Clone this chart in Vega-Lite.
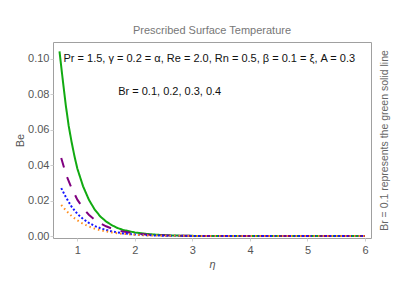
{
  "$schema": "https://vega.github.io/schema/vega-lite/v6.json",
  "width": 318,
  "height": 196,
  "autosize": "none",
  "padding": {"left": 53, "top": 42, "right": 34, "bottom": 57},
  "background": "white",
  "config": {
    "font": "Liberation Sans",
    "view": {"stroke": "#a0a0a0", "strokeWidth": 1},
    "axis": {"labelColor": "#555", "titleColor": "#555", "labelFontSize": 11, "titleFontSize": 11, "titleFontWeight": "normal", "domain": false, "grid": false, "tickColor": "#cfcfcf", "tickSize": 3, "labelFont": "Liberation Sans", "titleFont": "Liberation Sans"}
  },
  "title": {"text": "Prescribed Surface Temperature", "fontSize": 11, "fontWeight": "normal", "color": "#777", "font": "Liberation Sans", "offset": 6},
  "datasets": {
    "curves": [
      {"eta": 0.69, "Be": 0.104, "Br": "0.1"}, {"eta": 0.75, "Be": 0.087, "Br": "0.1"}, {"eta": 0.8, "Be": 0.0735, "Br": "0.1"}, {"eta": 0.85, "Be": 0.062, "Br": "0.1"}, {"eta": 0.9, "Be": 0.053, "Br": "0.1"}, {"eta": 0.95, "Be": 0.045, "Br": "0.1"}, {"eta": 1.0, "Be": 0.038, "Br": "0.1"}, {"eta": 1.1, "Be": 0.028, "Br": "0.1"}, {"eta": 1.2, "Be": 0.0205, "Br": "0.1"}, {"eta": 1.3, "Be": 0.015, "Br": "0.1"}, {"eta": 1.4, "Be": 0.011, "Br": "0.1"}, {"eta": 1.5, "Be": 0.0082, "Br": "0.1"}, {"eta": 1.6, "Be": 0.0061, "Br": "0.1"}, {"eta": 1.7, "Be": 0.0045, "Br": "0.1"}, {"eta": 1.8, "Be": 0.0034, "Br": "0.1"}, {"eta": 2.0, "Be": 0.002, "Br": "0.1"}, {"eta": 2.2, "Be": 0.0012, "Br": "0.1"}, {"eta": 2.4, "Be": 0.0007, "Br": "0.1"}, {"eta": 2.6, "Be": 0.0004, "Br": "0.1"}, {"eta": 2.8, "Be": 0.0002, "Br": "0.1"}, {"eta": 3.0, "Be": 0.0001, "Br": "0.1"}, {"eta": 3.5, "Be": 0.00002, "Br": "0.1"}, {"eta": 4.0, "Be": 0, "Br": "0.1"}, {"eta": 5.0, "Be": 0, "Br": "0.1"}, {"eta": 6.0, "Be": 0, "Br": "0.1"},
      {"eta": 0.72, "Be": 0.044, "Br": "0.2"}, {"eta": 0.8, "Be": 0.035, "Br": "0.2"}, {"eta": 0.9, "Be": 0.027, "Br": "0.2"}, {"eta": 1.0, "Be": 0.0205, "Br": "0.2"}, {"eta": 1.1, "Be": 0.0157, "Br": "0.2"}, {"eta": 1.2, "Be": 0.012, "Br": "0.2"}, {"eta": 1.3, "Be": 0.0092, "Br": "0.2"}, {"eta": 1.4, "Be": 0.0071, "Br": "0.2"}, {"eta": 1.5, "Be": 0.0055, "Br": "0.2"}, {"eta": 1.6, "Be": 0.0042, "Br": "0.2"}, {"eta": 1.7, "Be": 0.0032, "Br": "0.2"}, {"eta": 1.8, "Be": 0.0025, "Br": "0.2"}, {"eta": 2.0, "Be": 0.0015, "Br": "0.2"}, {"eta": 2.2, "Be": 0.0009, "Br": "0.2"}, {"eta": 2.5, "Be": 0.0004, "Br": "0.2"}, {"eta": 3.0, "Be": 0.0001, "Br": "0.2"}, {"eta": 3.5, "Be": 0, "Br": "0.2"}, {"eta": 4.5, "Be": 0, "Br": "0.2"}, {"eta": 6.0, "Be": 0, "Br": "0.2"},
      {"eta": 0.72, "Be": 0.027, "Br": "0.3"}, {"eta": 0.8, "Be": 0.022, "Br": "0.3"}, {"eta": 0.9, "Be": 0.0165, "Br": "0.3"}, {"eta": 1.0, "Be": 0.0125, "Br": "0.3"}, {"eta": 1.1, "Be": 0.0096, "Br": "0.3"}, {"eta": 1.2, "Be": 0.0074, "Br": "0.3"}, {"eta": 1.3, "Be": 0.0057, "Br": "0.3"}, {"eta": 1.4, "Be": 0.0044, "Br": "0.3"}, {"eta": 1.5, "Be": 0.0034, "Br": "0.3"}, {"eta": 1.6, "Be": 0.0026, "Br": "0.3"}, {"eta": 1.8, "Be": 0.0015, "Br": "0.3"}, {"eta": 2.0, "Be": 0.0009, "Br": "0.3"}, {"eta": 2.2, "Be": 0.0005, "Br": "0.3"}, {"eta": 2.5, "Be": 0.0002, "Br": "0.3"}, {"eta": 3.0, "Be": 0.00005, "Br": "0.3"}, {"eta": 3.5, "Be": 0, "Br": "0.3"}, {"eta": 4.5, "Be": 0, "Br": "0.3"}, {"eta": 6.0, "Be": 0, "Br": "0.3"},
      {"eta": 0.72, "Be": 0.0175, "Br": "0.4"}, {"eta": 0.8, "Be": 0.0145, "Br": "0.4"}, {"eta": 0.9, "Be": 0.0113, "Br": "0.4"}, {"eta": 1.0, "Be": 0.0088, "Br": "0.4"}, {"eta": 1.1, "Be": 0.0069, "Br": "0.4"}, {"eta": 1.2, "Be": 0.0054, "Br": "0.4"}, {"eta": 1.3, "Be": 0.0042, "Br": "0.4"}, {"eta": 1.4, "Be": 0.0033, "Br": "0.4"}, {"eta": 1.5, "Be": 0.0026, "Br": "0.4"}, {"eta": 1.6, "Be": 0.002, "Br": "0.4"}, {"eta": 1.8, "Be": 0.0012, "Br": "0.4"}, {"eta": 2.0, "Be": 0.0007, "Br": "0.4"}, {"eta": 2.2, "Be": 0.0004, "Br": "0.4"}, {"eta": 2.5, "Be": 0.0002, "Br": "0.4"}, {"eta": 3.0, "Be": 0.00005, "Br": "0.4"}, {"eta": 3.5, "Be": 0, "Br": "0.4"}, {"eta": 4.5, "Be": 0, "Br": "0.4"}, {"eta": 6.0, "Be": 0, "Br": "0.4"}
    ],
    "notes": [
      {"label": "Pr = 1.5, γ = 0.2 = α, Re = 2.0, Rn = 0.5, β = 0.1 = ξ, A = 0.3", "eta": 0.76, "Be": 0.0997},
      {"label": "Br = 0.1, 0.2, 0.3, 0.4", "eta": 1.71, "Be": 0.081}
    ]
  },
  "layer": [
    {
      "data": {"name": "curves"},
      "mark": {"type": "line", "clip": true, "strokeCap": "butt"},
      "encoding": {
        "x": {"field": "eta", "type": "quantitative", "scale": {"domain": [0.577, 6.104], "nice": false, "zero": false},
              "axis": {"title": "η", "titleFontStyle": "italic", "values": [1, 2, 3, 4, 5, 6], "format": "d", "labelPadding": 3, "titlePadding": 3}},
        "y": {"field": "Be", "type": "quantitative", "scale": {"domain": [-0.0011, 0.1093], "nice": false, "zero": false},
              "axis": {"title": "Be", "values": [0, 0.02, 0.04, 0.06, 0.08, 0.1], "format": ".2f", "labelPadding": 1, "titlePadding": 2}},
        "color": {"field": "Br", "type": "nominal", "legend": null,
                  "scale": {"domain": ["0.1", "0.2", "0.3", "0.4"], "range": ["#11aa11", "#800080", "#1414ff", "#ff8c1a"]}},
        "strokeDash": {"field": "Br", "type": "nominal", "legend": null,
                       "scale": {"domain": ["0.1", "0.2", "0.3", "0.4"], "range": [[1, 0], [10, 10], [2, 2], [1.5, 3]]}},
        "strokeWidth": {"field": "Br", "type": "nominal", "legend": null,
                        "scale": {"domain": ["0.1", "0.2", "0.3", "0.4"], "range": [2, 2, 2.6, 2]}}
      }
    },
    {
      "data": {"name": "notes"},
      "mark": {"type": "text", "align": "left", "baseline": "middle", "fontSize": 11, "color": "#111", "font": "Liberation Sans"},
      "encoding": {
        "x": {"field": "eta", "type": "quantitative"},
        "y": {"field": "Be", "type": "quantitative",
              "axis": {"orient": "right", "title": "Br = 0.1 represents the green solid line", "titleAngle": 270, "titleBaseline": "top", "labels": false, "ticks": false, "titlePadding": 8, "titleColor": "#666", "titleFontSize": 10.5}},
        "text": {"field": "label", "type": "nominal"}
      }
    }
  ],
  "resolve": {"axis": {"y": "independent"}}
}
